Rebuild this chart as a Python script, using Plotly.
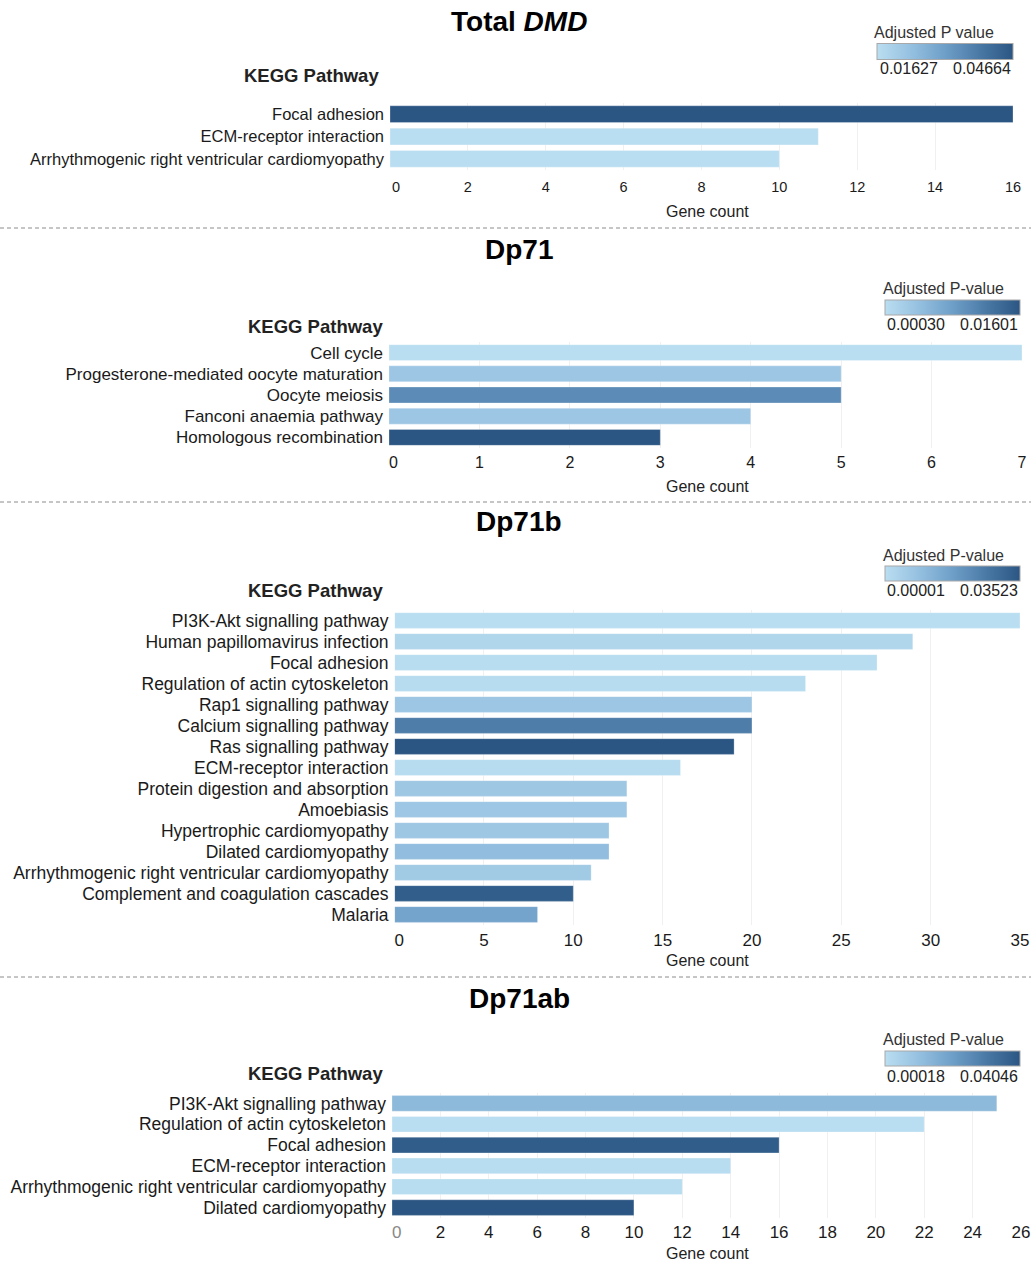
import plotly.graph_objects as go

W, H = 1031, 1264
FONT = "Liberation Sans, Arial, Helvetica, sans-serif"

# ---- data -------------------------------------------------------------
dmd_terms = ["Focal adhesion", "ECM-receptor interaction",
             "Arrhythmogenic right ventricular cardiomyopathy"]
dmd_counts = [16, 11, 10]
dmd_padj = [0.04664, 0.01627, 0.01627]

dp71_terms = ["Cell cycle", "Progesterone-mediated oocyte maturation",
              "Oocyte meiosis", "Fanconi anaemia pathway",
              "Homologous recombination"]
dp71_counts = [7, 5, 5, 4, 3]
dp71_padj = [0.00030, 0.00340, 0.01020, 0.00340, 0.01601]

dp71b_terms = ["PI3K-Akt signalling pathway", "Human papillomavirus infection",
               "Focal adhesion", "Regulation of actin cytoskeleton",
               "Rap1 signalling pathway", "Calcium signalling pathway",
               "Ras signalling pathway", "ECM-receptor interaction",
               "Protein digestion and absorption", "Amoebiasis",
               "Hypertrophic cardiomyopathy", "Dilated cardiomyopathy",
               "Arrhythmogenic right ventricular cardiomyopathy",
               "Complement and coagulation cascades", "Malaria"]
dp71b_counts = [35, 29, 27, 23, 20, 20, 19, 16, 13, 13, 12, 12, 11, 10, 8]
dp71b_padj = [0.00001, 0.00250, 0.00040, 0.00070, 0.00710, 0.02540, 0.03523,
              0.00070, 0.00670, 0.00680, 0.00670, 0.00950, 0.00600, 0.03310,
              0.01620]

dp71ab_terms = ["PI3K-Akt signalling pathway", "Regulation of actin cytoskeleton",
                "Focal adhesion", "ECM-receptor interaction",
                "Arrhythmogenic right ventricular cardiomyopathy",
                "Dilated cardiomyopathy"]
dp71ab_counts = [25, 22, 16, 14, 12, 10]
dp71ab_padj = [0.01230, 0.00018, 0.03850, 0.00060, 0.00060, 0.04046]

# ---- styling ----------------------------------------------------------
blues = [[0.0, "#BADEF1"], [0.25, "#95C0E0"], [0.5, "#6E9FC8"],
         [0.75, "#4A79A6"], [1.0, "#2B5683"]]
NB = "\u00a0"


def px_x(p):
    return p / W


def px_y(p):
    return 1 - p / H


panels = [
    dict(title="Total <i>DMD</i>", title_y=22, terms=dmd_terms, counts=dmd_counts,
         padj=dmd_padj, xmax=16, dtick=2, plot_x=(390, 1013), plot_y=(103, 170),
         kegg=(311, 76), cb_title="Adjusted P value", cb_title_pos=(872, 32),
         cb_x=(877, 1013), cb_y=(44, 60), cb_lab_y=69,
         lab_pos=(878, 1013), ylab_size=16.5, xtick_size=14.5, x_standoff=6,
         zero_pad=3, gene_y=211, sep_y=228),
    dict(title="Dp71", title_y=250, terms=dp71_terms, counts=dp71_counts,
         padj=dp71_padj, xmax=7, dtick=1, plot_x=(389, 1022), plot_y=(342, 448),
         kegg=(315, 326), cb_title="Adjusted P-value", cb_title_pos=(881, 288),
         cb_x=(885, 1020), cb_y=(300, 315), cb_lab_y=324,
         lab_pos=(885, 1020), ylab_size=17, xtick_size=16, x_standoff=3,
         zero_pad=2, gene_y=486, sep_y=502),
    dict(title="Dp71b", title_y=521, terms=dp71b_terms, counts=dp71b_counts,
         padj=dp71b_padj, xmax=35, dtick=5, plot_x=(394.6, 1020), plot_y=(610, 925),
         kegg=(315, 591), cb_title="Adjusted P-value", cb_title_pos=(881, 555),
         cb_x=(885, 1020), cb_y=(567, 582), cb_lab_y=591,
         lab_pos=(885, 1020), ylab_size=17.5, xtick_size=17, x_standoff=3,
         zero_pad=2, gene_y=960, sep_y=977),
    dict(title="Dp71ab", title_y=998, terms=dp71ab_terms, counts=dp71ab_counts,
         padj=dp71ab_padj, xmax=26, dtick=2, plot_x=(392, 1021), plot_y=(1093, 1218),
         kegg=(315, 1073), cb_title="Adjusted P-value", cb_title_pos=(881, 1039),
         cb_x=(885, 1020), cb_y=(1051, 1066), cb_lab_y=1076,
         lab_pos=(885, 1020), ylab_size=17.5, xtick_size=17, x_standoff=2,
         zero_pad=2, gene_y=1253, sep_y=None),
]

fig = go.Figure()
layout = dict(
    width=W, height=H, template="none",
    margin=dict(l=0, r=0, t=0, b=0),
    paper_bgcolor="white", plot_bgcolor="white",
    showlegend=False, bargap=0.25,
    font=dict(family=FONT, color="#222222"),
)
annotations = []
shapes = []

for i, p in enumerate(panels, start=1):
    sfx = "" if i == 1 else str(i)
    ca = "coloraxis" + sfx
    n = len(p["terms"])
    fig.add_trace(go.Bar(
        x=p["counts"], y=p["terms"], orientation="h",
        marker=dict(color=p["padj"], coloraxis=ca,
                    line=dict(width=0.6, color="rgba(255,255,255,0.45)")),
        xaxis="x" + sfx, yaxis="y" + sfx,
        hovertemplate="%{y}<br>Gene count: %{x}<extra></extra>",
    ))

    tickvals = list(range(0, p["xmax"] + 1, p["dtick"]))
    ticktext = [str(v) for v in tickvals]
    ticktext[0] = NB * p["zero_pad"] + "0"
    if i == 4:
        ticktext[0] = NB * p["zero_pad"] + '<span style="color:#888888">0</span>'
    layout["xaxis" + sfx] = dict(
        domain=[px_x(p["plot_x"][0]), px_x(p["plot_x"][1])],
        range=[0, p["xmax"]], anchor="y" + sfx,
        tickmode="array", tickvals=tickvals, ticktext=ticktext,
        showgrid=True, gridcolor="#F0F0F0", gridwidth=1,
        zeroline=False, showline=False, ticks="",
        ticklabelstandoff=p["x_standoff"],
        tickfont=dict(size=p["xtick_size"], color="#1a1a1a"),
    )
    layout["yaxis" + sfx] = dict(
        domain=[px_y(p["plot_y"][1]), px_y(p["plot_y"][0])],
        type="category", categoryorder="array", categoryarray=p["terms"],
        tickmode="array", tickvals=p["terms"], ticktext=p["terms"],
        range=[n - 0.5, -0.5], anchor="x" + sfx,
        showgrid=False, zeroline=False, showline=False, ticks="",
        ticklabelstandoff=5,
        tickfont=dict(size=p["ylab_size"], color="#1a1a1a"),
    )
    cb_len = p["cb_x"][1] - p["cb_x"][0]
    cb_th = p["cb_y"][1] - p["cb_y"][0]
    layout[ca] = dict(
        colorscale=blues, cmin=min(p["padj"]), cmax=max(p["padj"]),
        colorbar=dict(
            orientation="h", lenmode="pixels", len=cb_len,
            thicknessmode="pixels", thickness=cb_th,
            x=px_x((p["cb_x"][0] + p["cb_x"][1]) / 2), xanchor="center",
            y=px_y((p["cb_y"][0] + p["cb_y"][1]) / 2), yanchor="middle",
            xpad=0, ypad=0, outlinewidth=1, outlinecolor="#A8A8A8",
            showticklabels=False, ticks="",
        ),
    )

    # panel title
    annotations.append(dict(
        text="<b>" + p["title"] + "</b>", x=px_x(519), y=px_y(p["title_y"]),
        xref="paper", yref="paper", xanchor="center", yanchor="middle",
        showarrow=False, font=dict(size=28, color="black", family=FONT),
    ))
    # y axis heading
    annotations.append(dict(
        text="<b>KEGG Pathway</b>", x=px_x(p["kegg"][0]), y=px_y(p["kegg"][1]),
        xref="paper", yref="paper", xanchor="center", yanchor="middle",
        showarrow=False, font=dict(size=18.5, color="#222222", family=FONT),
    ))
    # x axis title
    annotations.append(dict(
        text="Gene count", x=px_x(707), y=px_y(p["gene_y"]),
        xref="paper", yref="paper", xanchor="center", yanchor="middle",
        showarrow=False, font=dict(size=16, color="#222222", family=FONT),
    ))
    # colour bar heading and end labels
    annotations.append(dict(
        text=p["cb_title"], x=px_x(p["cb_title_pos"][0]), y=px_y(p["cb_title_pos"][1]),
        xref="paper", yref="paper", xanchor="left", yanchor="middle",
        showarrow=False, font=dict(size=16, color="#333333", family=FONT),
    ))
    annotations.append(dict(
        text=f"{min(p['padj']):.5f}", x=px_x(p["lab_pos"][0]), y=px_y(p["cb_lab_y"]),
        xref="paper", yref="paper", xanchor="left", yanchor="middle",
        showarrow=False, font=dict(size=16, color="#222222", family=FONT),
    ))
    annotations.append(dict(
        text=f"{max(p['padj']):.5f}", x=px_x(p["lab_pos"][1]), y=px_y(p["cb_lab_y"]),
        xref="paper", yref="paper", xanchor="right", yanchor="middle",
        showarrow=False, font=dict(size=16, color="#222222", family=FONT),
    ))
    # dashed separator under the panel
    if p["sep_y"] is not None:
        shapes.append(dict(
            type="line", xref="paper", yref="paper",
            x0=0, x1=1, y0=px_y(p["sep_y"]), y1=px_y(p["sep_y"]),
            line=dict(color="#8C8C8C", width=1, dash="4px,3px"),
        ))

layout["annotations"] = annotations
layout["shapes"] = shapes
fig.update_layout(**layout)
fig.write_html("out.html")
